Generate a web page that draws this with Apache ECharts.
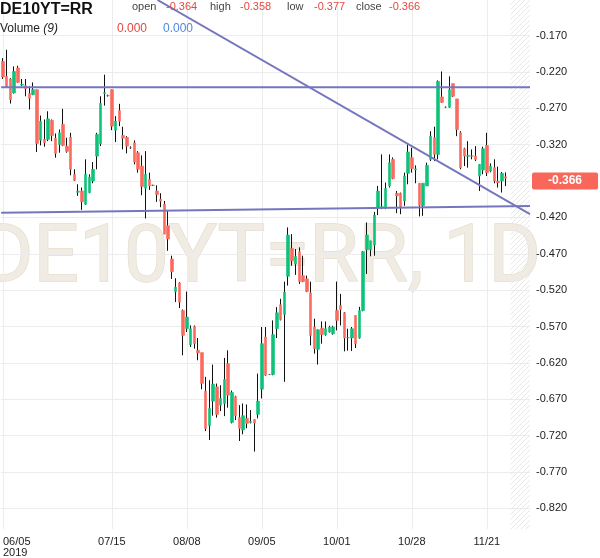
<!DOCTYPE html>
<html><head><meta charset="utf-8">
<script src="https://cdn.jsdelivr.net/npm/echarts@6/dist/echarts.min.js"></script>
<style>html,body{margin:0;padding:0;background:#fff}#c{width:600px;height:558px}</style>
</head><body><div id="c"></div>
<script>
const opens = [-0.2055,-0.2260,-0.2296,-0.2488,-0.2145,-0.2381,-0.2388,-0.2497,-0.2511,-0.2443,
-0.3137,-0.3127,-0.3127,-0.2867,-0.3110,-0.3196,-0.2922,-0.3219,-0.3096,-0.3607,
-0.3853,-0.3836,-0.4018,-0.3858,-0.3699,-0.3356,-0.3186,-0.2497,-0.2525,-0.2443,
-0.3000,-0.2730,-0.3073,-0.3100,-0.3241,-0.3173,-0.3310,-0.3493,-0.3799,-0.3675,
-0.3758,-0.3836,-0.3949,-0.4018,-0.4315,-0.4771,-0.5219,-0.5100,-0.5480,-0.5730,
-0.5949,-0.5699,-0.6027,-0.6059,-0.6589,-0.7063,-0.6726,-0.6529,-0.6781,-0.6758,
-0.6210,-0.7018,-0.6666,-0.6953,-0.7123,-0.6963,-0.7018,-0.6977,-0.6908,-0.6562,
-0.5844,-0.6360,-0.6360,-0.5730,-0.5401,-0.5534,-0.5008,-0.4625,-0.4840,-0.4671,
-0.5000,-0.5045,-0.5237,-0.5707,-0.6014,-0.5721,-0.5812,-0.5775,-0.5799,-0.5480,
-0.5411,-0.5511,-0.5853,-0.5858,-0.5548,-0.5858,-0.5480,-0.4644,-0.4644,-0.4580,
-0.4063,-0.4066,-0.4063,-0.3767,-0.3401,-0.3867,-0.3867,-0.3973,-0.3593,-0.3378,
-0.3545,-0.3730,-0.4041,-0.3767,-0.3401,-0.3104,-0.3333,-0.2543,-0.2685,-0.2685,
-0.2360,-0.2570,-0.3036,-0.3255,-0.3360,-0.3356,-0.3356,-0.3630,-0.3548,-0.3210,
-0.3562,-0.3515,-0.3699,-0.3699,-0.364];
const closes = [-0.2269,-0.2406,-0.2580,-0.2192,-0.2343,-0.2367,-0.2429,-0.2562,-0.2443,-0.3182,
-0.2877,-0.3173,-0.2844,-0.3073,-0.3319,-0.3036,-0.3210,-0.3292,-0.3538,-0.3689,
-0.3840,-0.3986,-0.3607,-0.3644,-0.3538,-0.3059,-0.2634,-0.2484,-0.2525,-0.2945,
-0.2877,-0.2877,-0.3110,-0.3219,-0.3241,-0.3438,-0.3538,-0.3775,-0.3607,-0.3767,
-0.3758,-0.3885,-0.3977,-0.4429,-0.4497,-0.4945,-0.5159,-0.5364,-0.5822,-0.5570,
-0.5730,-0.5936,-0.6063,-0.6484,-0.7100,-0.6826,-0.6493,-0.6908,-0.6689,-0.6429,
-0.6644,-0.6607,-0.6926,-0.7100,-0.6926,-0.7032,-0.7004,-0.7027,-0.6726,-0.5936,
-0.6370,-0.6360,-0.5812,-0.5511,-0.5603,-0.5227,-0.4442,-0.4795,-0.4734,-0.5082,
-0.5082,-0.5219,-0.5822,-0.6004,-0.5744,-0.5812,-0.5730,-0.5707,-0.5707,-0.5616,
-0.5466,-0.5858,-0.5853,-0.5730,-0.5936,-0.5480,-0.4671,-0.4442,-0.4521,-0.4168,
-0.3836,-0.4052,-0.3803,-0.3447,-0.3666,-0.3904,-0.4052,-0.3630,-0.3301,-0.3529,
-0.3532,-0.4032,-0.3730,-0.3484,-0.3082,-0.3333,-0.2329,-0.2617,-0.2685,-0.2443,
-0.2534,-0.2990,-0.3515,-0.3356,-0.3347,-0.3356,-0.3401,-0.3470,-0.3255,-0.3584,
-0.3493,-0.3699,-0.3721,-0.3593,-0.366];
const lows = [-0.2296,-0.2419,-0.2634,-0.2497,-0.2351,-0.2397,-0.2534,-0.2716,-0.2518,-0.3301,
-0.3210,-0.3227,-0.3151,-0.3151,-0.3378,-0.3310,-0.3219,-0.3310,-0.3621,-0.3699,
-0.3904,-0.4096,-0.4027,-0.3867,-0.3730,-0.3538,-0.3219,-0.2662,-0.2538,-0.3000,
-0.3164,-0.2945,-0.3264,-0.3319,-0.3258,-0.3470,-0.3584,-0.3894,-0.4214,-0.3822,
-0.3767,-0.3986,-0.4059,-0.4429,-0.4658,-0.5045,-0.5364,-0.5447,-0.6096,-0.5775,
-0.5981,-0.6004,-0.6164,-0.6562,-0.7137,-0.7260,-0.6926,-0.6953,-0.6863,-0.6932,
-0.6816,-0.7032,-0.6986,-0.7274,-0.7182,-0.7100,-0.7032,-0.7419,-0.6963,-0.6689,
-0.6378,-0.6367,-0.6370,-0.5858,-0.5616,-0.6460,-0.5137,-0.4863,-0.4990,-0.5114,
-0.5090,-0.5227,-0.5959,-0.6073,-0.6223,-0.5936,-0.5826,-0.5785,-0.5812,-0.5753,
-0.5685,-0.6041,-0.6032,-0.6036,-0.5995,-0.5867,-0.5490,-0.4977,-0.4734,-0.4726,
-0.4168,-0.4086,-0.4086,-0.3789,-0.3675,-0.4141,-0.4155,-0.4041,-0.3744,-0.3584,
-0.3730,-0.4186,-0.4178,-0.3767,-0.3425,-0.3425,-0.3401,-0.2625,-0.2696,-0.2693,
-0.2545,-0.3082,-0.3538,-0.3493,-0.3515,-0.3401,-0.3425,-0.3836,-0.3607,-0.3630,
-0.3579,-0.3730,-0.3789,-0.3858,-0.377];
const highs = [-0.2009,-0.1895,-0.2282,-0.2123,-0.2114,-0.2296,-0.2296,-0.2397,-0.2343,-0.2443,
-0.2799,-0.2853,-0.2740,-0.2853,-0.3045,-0.2990,-0.2707,-0.3104,-0.3036,-0.3538,
-0.3744,-0.3789,-0.3401,-0.3607,-0.3438,-0.3036,-0.2534,-0.2237,-0.2511,-0.2443,
-0.2808,-0.2638,-0.2953,-0.3082,-0.3223,-0.3141,-0.3288,-0.3347,-0.3288,-0.3584,
-0.3751,-0.3758,-0.3867,-0.3973,-0.4110,-0.4726,-0.5036,-0.5090,-0.5466,-0.5219,
-0.5685,-0.5685,-0.5858,-0.6059,-0.6392,-0.6438,-0.6223,-0.6484,-0.6507,-0.6132,
-0.6027,-0.6580,-0.6652,-0.6781,-0.6758,-0.6771,-0.6849,-0.6977,-0.6347,-0.5707,
-0.5707,-0.6353,-0.5616,-0.5433,-0.5319,-0.5082,-0.4337,-0.4429,-0.4634,-0.4611,
-0.4726,-0.5000,-0.5082,-0.5593,-0.5740,-0.5630,-0.5630,-0.5689,-0.5689,-0.5082,
-0.5251,-0.5501,-0.5730,-0.5707,-0.5548,-0.5429,-0.4662,-0.4269,-0.4521,-0.4123,
-0.3767,-0.3333,-0.3721,-0.3333,-0.3374,-0.3836,-0.3858,-0.3584,-0.3196,-0.3241,
-0.3484,-0.3730,-0.3730,-0.3447,-0.3014,-0.2953,-0.2315,-0.2192,-0.2675,-0.2260,
-0.2360,-0.2570,-0.3014,-0.3241,-0.3151,-0.3264,-0.3219,-0.3470,-0.3227,-0.3036,
-0.3456,-0.3401,-0.3501,-0.3575,-0.358];

const futureSlots = 6;
const tickIndex = [0, 29, 49, 69, 89, 109, 129];
const tickText = ['06/05\n2019', '07/15', '08/08', '09/05', '10/01', '10/28', '11/21'];
const yTicks = [-0.82,-0.77,-0.72,-0.67,-0.62,-0.57,-0.52,-0.47,-0.42,-0.37,-0.32,-0.27,-0.22,-0.17];
const yMin = -0.8484, yMax = -0.1210;
const volumeValues = [0.000, 0.000];
// trend lines: [x index, value] end points
const trendTop = [[-0.5, -0.2411], [140.5, -0.2411]];
const trendBottom = [[-0.5, -0.4137], [140.5, -0.4041]];
const trendDiag = [[41.19, -0.1210], [140.5, -0.4155]];

const N = opens.length + futureSlots;
const categories = Array.from({length: N}, (_, i) => String(i));
const last = opens.length - 1;
const lastO = opens[last], lastH = highs[last], lastL = lows[last], lastC = closes[last];

const GREEN = '#0fc27a', RED = '#fa6b5e', LINE = '#7676be';
const FONT = '"Liberation Sans", Arial, sans-serif';

const wickData = opens.map((o, i) => [o, closes[i], lows[i], highs[i]]);
const bodyData = opens.map((o, i) => [o, closes[i], Math.min(o, closes[i]), Math.max(o, closes[i])]);

const pc = document.createElement('canvas');
pc.width = 5; pc.height = 5;
const pctx = pc.getContext('2d');
pctx.strokeStyle = '#e8e8e8'; pctx.lineWidth = 1;
pctx.beginPath();
pctx.moveTo(0, 5); pctx.lineTo(5, 0);
pctx.moveTo(-1, 1); pctx.lineTo(1, -1);
pctx.moveTo(4, 6); pctx.lineTo(6, 4);
pctx.stroke();

const chart = echarts.init(document.getElementById('c'), null, {renderer: 'canvas'});
const hdr = (x, text, color, size) => ({type: 'text', x: x, y: 7, z: 10,
  style: {text: text, fill: color, fontSize: size || 11, fontFamily: FONT, verticalAlign: 'middle'}});

chart.setOption({
  animation: false,
  backgroundColor: '#fff',
  grid: {left: 0, right: 70, top: 0, bottom: 27, containLabel: false},
  xAxis: [{
    type: 'category', data: categories, boundaryGap: true,
    axisLine: {show: false}, axisTick: {show: false},
    axisLabel: {
      interval: (i) => tickIndex.includes(i),
      formatter: (v) => { const k = tickIndex.indexOf(+v); return k >= 0 ? tickText[k] : ''; },
      color: '#222', fontSize: 11, fontFamily: FONT, margin: 7, lineHeight: 11,
      alignMinLabel: 'left', verticalAlign: 'top'
    },
    splitLine: {show: true, interval: (i) => tickIndex.includes(i), alignWithLabel: true,
      lineStyle: {color: '#ececec', width: 1}}
  }, {
    type: 'value', min: -0.5, max: N - 0.5, show: false
  }],
  yAxis: {
    type: 'value', position: 'right', min: yMin, max: yMax,
    axisLine: {show: false},
    axisTick: {show: false, customValues: yTicks},
    axisLabel: {customValues: yTicks, formatter: (v) => v.toFixed(3), color: '#222',
      fontSize: 11, fontFamily: FONT, margin: 6},
    splitLine: {show: true, lineStyle: {color: '#ececec', width: 1}}
  },
  graphic: [
    {type: 'text', x: -19, y: 261, z: -1, silent: true,
      style: {text: 'DE10YT=RR, 1D', fontSize: 80, fontFamily: 'Roboto', fill: '#f1ece3',
        stroke: '#e4dccd', lineWidth: 1.3, verticalAlign: 'middle'}},
    {type: 'text', x: 0, y: 10, z: 10,
      style: {text: 'DE10YT=RR', fill: '#111', fontSize: 16, fontWeight: 'bold', fontFamily: FONT, verticalAlign: 'middle'}},
    hdr(132, 'open', '#444'), hdr(166, lastO.toFixed(3), '#e5473f'),
    hdr(210, 'high', '#444'), hdr(240, lastH.toFixed(3), '#e5473f'),
    hdr(287, 'low', '#444'), hdr(314, lastL.toFixed(3), '#e5473f'),
    hdr(356, 'close', '#444'), hdr(389, lastC.toFixed(3), '#e5473f'),
    {type: 'text', x: 0, y: 29, z: 10,
      style: {text: '{a|Volume }{b|(9)}', verticalAlign: 'middle',
        rich: {a: {fontSize: 12, fontFamily: FONT, fill: '#222'}, b: {fontSize: 12, fontFamily: FONT, fontStyle: 'italic', fill: '#222'}}}},
    {type: 'text', x: 117, y: 29, z: 10, style: {text: volumeValues[0].toFixed(3), fill: '#e5473f', fontSize: 12, fontFamily: FONT, verticalAlign: 'middle'}},
    {type: 'text', x: 163, y: 29, z: 10, style: {text: volumeValues[1].toFixed(3), fill: '#4f86e6', fontSize: 12, fontFamily: FONT, verticalAlign: 'middle'}}
  ],
  series: [
    {
      type: 'line', xAxisIndex: 1, data: [], z: 1, silent: true,
      markArea: {silent: true, itemStyle: {color: {image: pc, repeat: 'repeat'}},
        data: [[{xAxis: opens.length + 0.3}, {xAxis: N - 0.5}]]}
    },
    {
      type: 'candlestick', name: 'wick', data: wickData, barWidth: 1, barMinWidth: 1, z: 2, silent: true,
      itemStyle: {color: '#111', color0: '#111', borderColor: '#111', borderColor0: '#111', borderColorDoji: '#111', borderWidth: 1}
    },
    {
      type: 'candlestick', name: 'body', data: bodyData, barWidth: 3, barMinWidth: 1, z: 3, silent: true,
      itemStyle: {color: GREEN, color0: RED, borderColor: GREEN, borderColor0: RED, borderColorDoji: '#777', borderWidth: 0.6},
      markLine: {
        silent: true, symbol: ['none', 'none'], animation: false,
        lineStyle: {color: 'rgba(0,0,0,0)', width: 0},
        label: {show: true, position: 'end', distance: 2, formatter: () => lastC.toFixed(3),
          color: '#fff', fontWeight: 'bold', fontSize: 12, fontFamily: FONT,
          backgroundColor: '#f9675a', padding: [3, 16, 2, 16], borderRadius: 2},
        data: [{yAxis: lastC}]
      }
    },
    {type: 'line', xAxisIndex: 1, data: trendTop, showSymbol: false, symbol: 'none', silent: true, z: 4,
      lineStyle: {color: LINE, width: 2}},
    {type: 'line', xAxisIndex: 1, data: trendBottom, showSymbol: false, symbol: 'none', silent: true, z: 4,
      lineStyle: {color: LINE, width: 2}},
    {type: 'line', xAxisIndex: 1, data: trendDiag, showSymbol: false, symbol: 'none', silent: true, z: 4,
      lineStyle: {color: LINE, width: 2}}
  ]
});
</script></body></html>
